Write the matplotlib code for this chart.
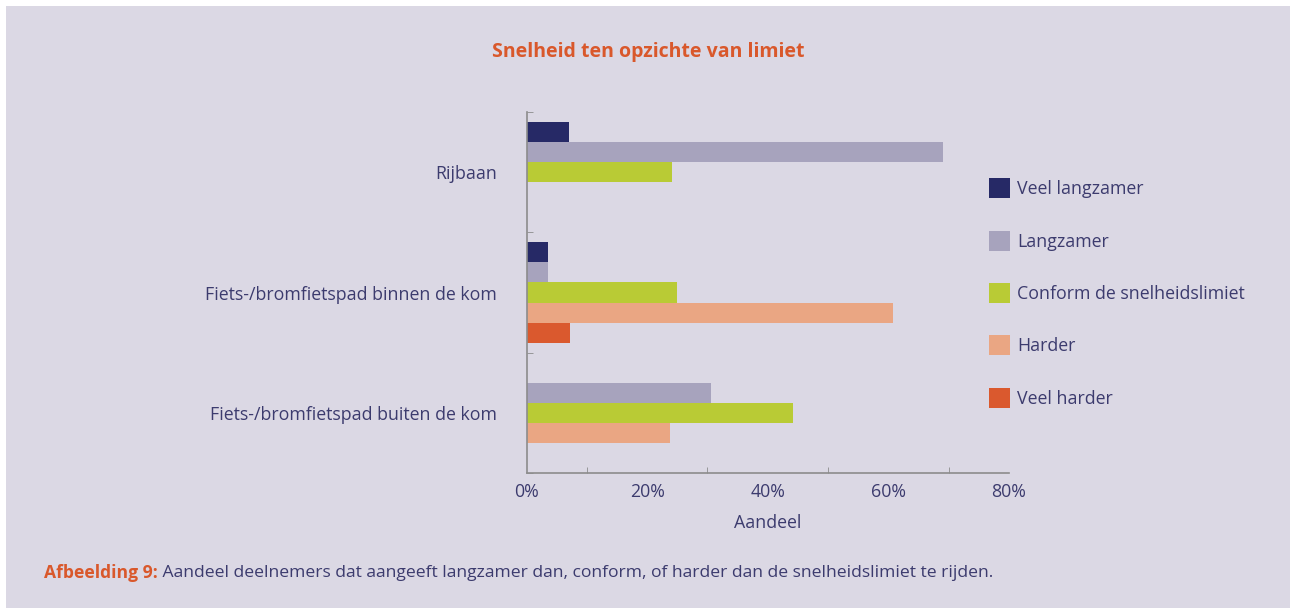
import numpy as np
import matplotlib
matplotlib.use("Agg")
import matplotlib.pyplot as plt
from matplotlib.patches import Rectangle

# ---- data ----
categories = ["Rijbaan",
              "Fiets-/bromfietspad binnen de kom",
              "Fiets-/bromfietspad buiten de kom"]
series = ["Veel langzamer", "Langzamer", "Conform de snelheidslimiet",
          "Harder", "Veel harder"]
veel_langzamer = [7.0, 3.6, np.nan]
langzamer = [69.1, 3.6, 30.6]
conform = [24.2, 25.0, 44.2]
harder = [np.nan, 60.7, 23.8]
veel_harder = [np.nan, 7.2, np.nan]
xticks = [0, 20, 40, 60, 80]
xtick_labels = ["0%", "20%", "40%", "60%", "80%"]

values = [veel_langzamer, langzamer, conform, harder, veel_harder]
colors = ["#262966", "#a7a3bd", "#b9cb35", "#eaa683", "#da592e"]

BG = "#dbd8e4"
NAVY = "#3c3b6e"
ORANGE = "#d9582b"
FONT = ["Open Sans", "DejaVu Sans"]
plt.rcParams["font.family"] = FONT
FS = 12.8

fig = plt.figure(figsize=(12.9, 6.08), dpi=100)
fig.patch.set_facecolor("white")
fig.patches.append(Rectangle((6 / 1290, 0), 1, 1 - 6 / 608, transform=fig.transFigure,
                             facecolor=BG, edgecolor="none", zorder=-10))

ax = fig.add_axes([526.5 / 1290, 135 / 608, (1009 - 526.5) / 1290, (473 - 112) / 608])
ax.set_facecolor("none")

h = 20 / 120.3
y = np.arange(len(categories))
for k, (vals, col, name) in enumerate(zip(values, colors, series)):
    ax.barh(y + (k - 2) * h, vals, height=h, color=col, label=name, linewidth=0)

ax.set_ylim(2.5, -0.5)
ax.set_xlim(0, 80)
ax.set_yticks(y)
ax.set_yticklabels(categories)
ax.set_yticks([-0.5, 0.5, 1.5, 2.5], minor=True)
ax.set_xticks(xticks)
ax.set_xticklabels(xtick_labels)
ax.set_xticks(np.arange(0, 81, 10), minor=True)

for s in ["top", "right"]:
    ax.spines[s].set_visible(False)
for s in ["left", "bottom"]:
    ax.spines[s].set_color("#8c8c8c")
    ax.spines[s].set_linewidth(1.2)

ax.tick_params(axis="y", which="major", length=0, pad=21.5, labelsize=FS, labelcolor=NAVY)
ax.tick_params(axis="y", which="minor", direction="in", length=4, color="#8c8c8c")
ax.tick_params(axis="x", which="major", length=0, pad=7, labelsize=FS, labelcolor=NAVY)
ax.tick_params(axis="x", which="minor", direction="in", length=4, color="#8c8c8c")

ax.set_xlabel("Aandeel", fontsize=FS, color=NAVY, labelpad=9.5)

fig.text(648 / 1290, 1 - 52 / 608, "Snelheid ten opzichte van limiet", ha="center", va="center",
         fontsize=14, fontweight="bold", color=ORANGE)

leg = ax.legend(loc="upper left", bbox_to_anchor=(989 / 1290, 1 - 178.5 / 608),
                bbox_transform=fig.transFigure, frameon=False, fontsize=FS,
                borderpad=0, borderaxespad=0, handlelength=1.18, handleheight=1.35,
                handletextpad=0.4, labelspacing=1.82)
for t in leg.get_texts():
    t.set_color(NAVY)

t1 = fig.text(44 / 1290, 1 - 573 / 608, "Afbeelding 9:", ha="left", va="center",
              fontsize=12.6, fontweight="bold", color=ORANGE)
fig.canvas.draw()
ax.annotate(" Aandeel deelnemers dat aangeeft langzamer dan, conform, of harder dan de snelheidslimiet te rijden.",
            xy=(1, 0.5), xycoords=t1, ha="left", va="center", fontsize=12.6, color=NAVY,
            annotation_clip=False)

fig.savefig("out.png", dpi=100, facecolor=fig.get_facecolor())
